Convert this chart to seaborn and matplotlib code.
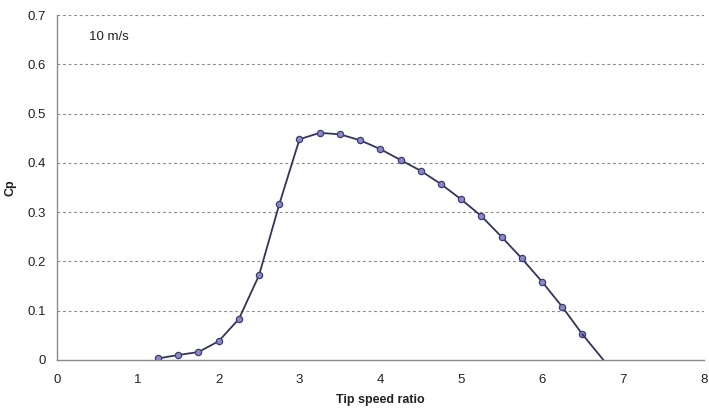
import numpy as np
import pandas as pd
import seaborn as sns
import matplotlib.pyplot as plt

# Cp curve (10 m/s)
tsr = [1.25, 1.5, 1.75, 2.0, 2.25, 2.5, 2.75, 3.0, 3.25, 3.5, 3.75, 4.0,
       4.25, 4.5, 4.75, 5.0, 5.25, 5.5, 5.75, 6.0, 6.25, 6.5]
cp = [0.003, 0.010, 0.016, 0.038, 0.083, 0.172, 0.316, 0.448, 0.461, 0.458,
      0.446, 0.428, 0.406, 0.384, 0.357, 0.326, 0.292, 0.250, 0.206, 0.159,
      0.108, 0.052]
# line continues past the last marker down to the axis
tsr_end = [6.5, 6.78]
cp_end = [0.052, -0.004]

xticks = [0, 1, 2, 3, 4, 5, 6, 7, 8]
yticks = [0, 0.1, 0.2, 0.3, 0.4, 0.5, 0.6, 0.7]

df = pd.DataFrame({'tsr': tsr, 'cp': cp})
df_end = pd.DataFrame({'tsr': tsr_end, 'cp': cp_end})

sns.set_style('white')
plt.rcParams['font.family'] = ['Liberation Sans', 'DejaVu Sans']

fig = plt.figure(figsize=(7.09, 4.09), dpi=100)
ax = fig.add_axes([0.0804, 0.12, 0.912, 0.843])

line_col = '#33335f'
sns.lineplot(data=df, x='tsr', y='cp', ax=ax, color=line_col, linewidth=1.3,
             marker='o', markersize=4.5, markerfacecolor='#8a8ac8',
             markeredgecolor='#3c3c78', markeredgewidth=0.9)
sns.lineplot(data=df_end, x='tsr', y='cp', ax=ax, color=line_col, linewidth=1.3)

ax.set_xlim(0, 8)
ax.set_ylim(0, 0.7)
ax.set_xticks(xticks)
ax.set_xticklabels([str(t) for t in xticks])
ax.set_yticks(yticks)
ax.set_yticklabels(['0'] + ['%.1f' % t for t in yticks[1:]])

for y in yticks[1:]:
    ax.axhline(y, color='#8a8a8a', linestyle=(0, (2.5, 2.5)), linewidth=0.8, zorder=0)

for side in ['top', 'right']:
    ax.spines[side].set_visible(False)
for side in ['left', 'bottom']:
    ax.spines[side].set_color('#8c8c8c')
    ax.spines[side].set_linewidth(1.0)

ax.tick_params(axis='both', direction='out', length=4, width=0.8, color='#8c8c8c',
               labelsize=9.5, labelcolor='#222222', pad=4)
ax.tick_params(axis='x', pad=6)

ax.set_xlabel('Tip speed ratio', fontsize=9, fontweight='bold', color='#222222', labelpad=6)
ax.set_ylabel('Cp', fontsize=9, fontweight='bold', color='#222222')
ax.yaxis.set_label_coords(-0.062, 0.5)

ax.text(0.4, 0.655, '10 m/s', fontsize=9.5, color='#222222', va='center', ha='left')

plt.savefig('out.png', dpi=100)
